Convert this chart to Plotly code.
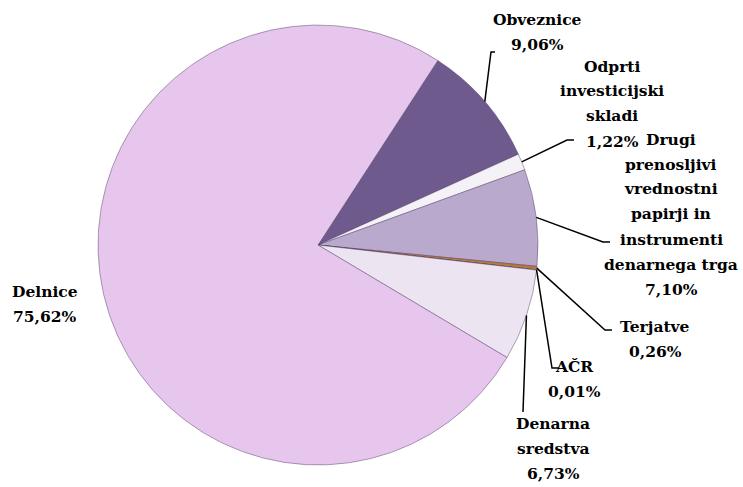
import math
import plotly.graph_objects as go

W, H = 743, 487

# ── data ──────────────────────────────────────────────────────────────────────
labels = [
    "Obveznice",
    "Odprti investicijski skladi",
    "Drugi prenosljivi vrednostni papirji in instrumenti denarnega trga",
    "Terjatve",
    "AČR",
    "Denarna sredstva",
    "Delnice",
]
values = [9.06, 1.22, 7.10, 0.26, 0.01, 6.73, 75.62]
label_lines = [
    ["Obveznice", "9,06%"],
    ["Odprti", "investicijski", "skladi", "1,22%"],
    ["Drugi", "prenosljivi", "vrednostni", "papirji in", "instrumenti", "denarnega trga", "7,10%"],
    ["Terjatve", "0,26%"],
    ["AČR", "0,01%"],
    ["Denarna", "sredstva", "6,73%"],
    ["Delnice", "75,62%"],
]
colors = ["#6f5a8e", "#f4f2f6", "#b9a9cd", "#b8793e", "#9a8aa8", "#ece5f1", "#e6c6ec"]

# ── layout (pixels) ───────────────────────────────────────────────────────────
CX, CY, R = 318, 245, 220
ROTATION = 33
# first-line centre of each label block
label_pos = [(537, 20), (612, 66), (671, 139), (655, 326), (574, 366), (553, 423), (45, 291)]
# leader line bends (pixel), None = no leader
leader_pts = [
    [(491, 52), (495, 52)],
    [(567, 140), (574, 140)],
    [(603, 242), (610, 242)],
    [(605, 330), (612, 330)],
    [(552, 368), (559, 368)],
    [(523, 412)],
    None,
]
LINE_H = 25


def px(x, y):
    return x / W, 1 - y / H


fig = go.Figure(
    go.Pie(
        labels=labels,
        values=values,
        sort=False,
        direction="clockwise",
        rotation=ROTATION,
        marker=dict(colors=colors, line=dict(color="rgba(80,60,100,0.45)", width=1)),
        textinfo="none",
        hoverinfo="label+percent",
        showlegend=False,
        domain=dict(x=[(CX - R) / W, (CX + R) / W], y=[1 - (CY + R) / H, 1 - (CY - R) / H]),
    )
)

# leader lines start at slice mid-angle on the rim
total = sum(values)
cum = 0.0
for v, pts in zip(values, leader_pts):
    mid = ROTATION + (cum + v / 2) / total * 360
    cum += v
    if pts is None:
        continue
    ex = CX + R * math.sin(math.radians(mid))
    ey = CY - R * math.cos(math.radians(mid))
    path = "M {} {}".format(*px(ex, ey))
    for x, y in pts:
        path += " L {} {}".format(*px(x, y))
    fig.add_shape(type="path", path=path, xref="paper", yref="paper",
                  line=dict(color="black", width=1.5))

for lines, (lx, ly) in zip(label_lines, label_pos):
    for i, t in enumerate(lines):
        x, y = px(lx, ly + i * LINE_H)
        fig.add_annotation(
            x=x, y=y, xref="paper", yref="paper", text=t, showarrow=False,
            xanchor="center", yanchor="middle",
            font=dict(family="DejaVu Serif", size=15.5, color="black", weight="bold"),
        )

fig.update_layout(
    width=W, height=H,
    margin=dict(l=0, r=0, t=0, b=0),
    paper_bgcolor="white",
    plot_bgcolor="white",
)

fig.write_html(
    "out.html",
    config={"displayModeBar": False},
    post_script="document.body.style.margin='0';",
)
